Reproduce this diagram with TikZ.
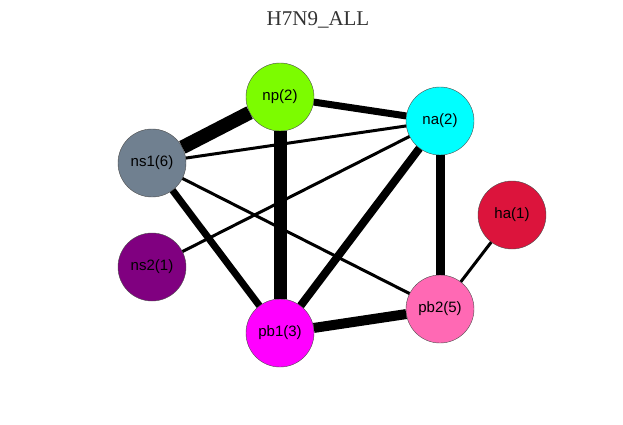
\documentclass[tikz,border=0pt]{standalone}
\usepackage{fontspec}
\setmainfont{Liberation Serif}
\newfontfamily\nodefont{Liberation Sans}
\usepackage{xcolor}
\definecolor{lawnGreen}{HTML}{7CFC00}
\definecolor{aquaCyan}{HTML}{00FFFF}
\definecolor{slateGray}{HTML}{708090}
\definecolor{crimsonRed}{HTML}{DC143C}
\definecolor{darkPurple}{HTML}{800080}
\definecolor{brightMagenta}{HTML}{FF00FF}
\definecolor{hotPink}{HTML}{FF69B4}

\begin{document}
\begin{tikzpicture}[
    x=1pt, y=-1pt,
    seg/.style={line width=#1, draw=black},
    seg/.default=3pt,
    prot/.style={
        circle,
        minimum size=68pt,
        inner sep=0pt,
        draw=black!70,
        line width=0.4pt,
        font=\nodefont\fontsize{15}{18}\selectfont,
      },
  ]
  \useasboundingbox (0,0) rectangle (623,424);
  \node[font=\fontsize{21}{25}\selectfont, text=black!80] (title) at (318,20) {H7N9\_ALL};

  \node[prot, fill=lawnGreen] (np) at (280,97) {np(2)};
  \node[prot, fill=aquaCyan] (na) at (440,121) {na(2)};
  \node[prot, fill=slateGray] (ns1) at (152,163) {ns1(6)};
  \node[prot, fill=crimsonRed] (ha) at (512,215) {ha(1)};
  \node[prot, fill=darkPurple] (ns2) at (152,267) {ns2(1)};
  \node[prot, fill=brightMagenta] (pb1) at (280,333) {pb1(3)};
  \node[prot, fill=hotPink] (pb2) at (440,309) {pb2(5)};

  \draw[seg=14pt] (ns1) -- (np);
  \draw[seg=13pt] (np) -- (pb1);
  \draw[seg=7pt] (np) -- (na);
  \draw[seg] (ns1) -- (na);
  \draw[seg=7pt] (ns1) -- (pb1);
  \draw[seg] (ns1) -- (pb2);
  \draw[seg] (ns2) -- (na);
  \draw[seg=8pt] (na) -- (pb1);
  \draw[seg=9pt] (na) -- (pb2);
  \draw[seg=10pt] (pb1) -- (pb2);
  \draw[seg] (ha) -- (pb2);
\end{tikzpicture}
\end{document}
